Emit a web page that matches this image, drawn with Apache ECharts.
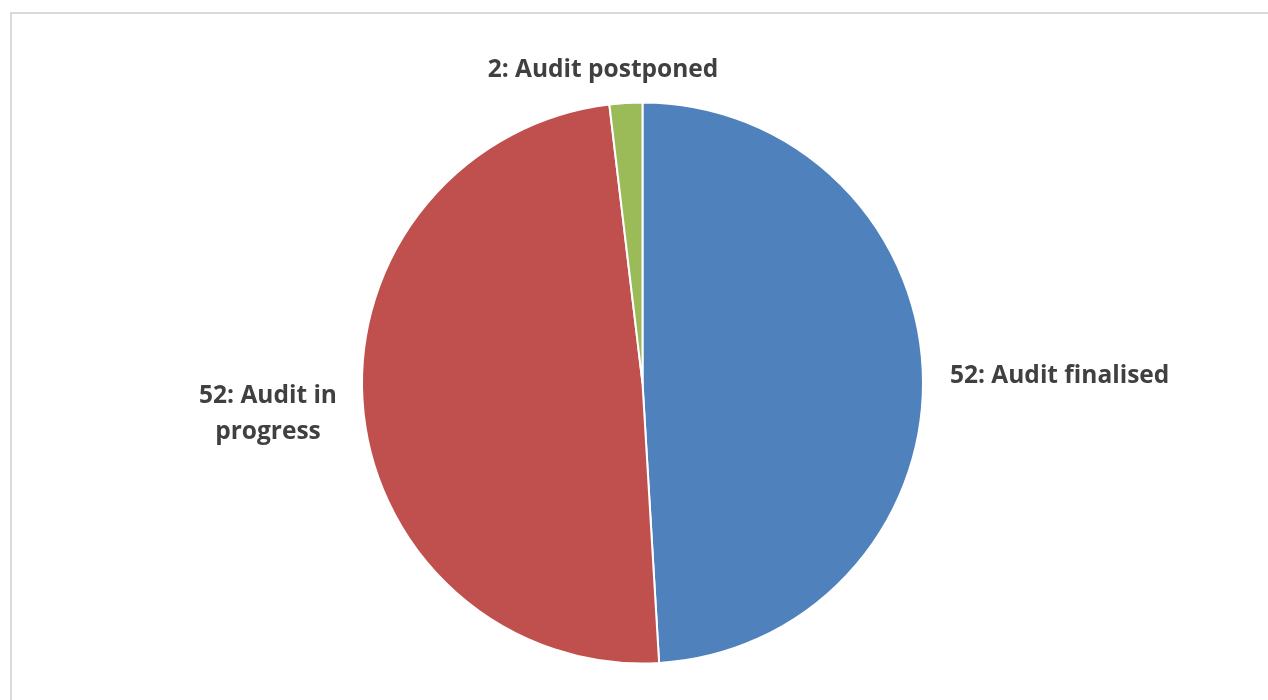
<!DOCTYPE html>
<html>
<head>
<meta charset="utf-8">
<script src="https://cdn.jsdelivr.net/npm/echarts@6/dist/echarts.min.js"></script>
<style>
html,body{margin:0;padding:0;background:#fff;}
#frame{position:absolute;left:10px;top:12px;width:1300px;height:720px;border-left:2px solid #d9d9d9;border-top:2px solid #d9d9d9;}
#chart{position:absolute;left:0;top:0;width:1268px;height:700px;}
</style>
</head>
<body>
<div id="frame"></div>
<div id="chart"></div>
<script>
const categories = ['Audit finalised', 'Audit in progress', 'Audit postponed'];
const values = [52, 52, 2];
const colors = ['#4F81BD', '#C0504D', '#9BBB59'];
const labelTexts = ['52: Audit finalised', '52: Audit in\nprogress', '2: Audit postponed'];

const labelSpots = [
  {x: 950, y: 376, align: 'left'},
  {x: 268, y: 414, align: 'center'},
  {x: 603, y: 70, align: 'center'}
];

const chart = echarts.init(document.getElementById('chart'), null, {renderer: 'canvas'});
chart.setOption({
  animation: false,
  series: [{
    type: 'pie',
    center: [642.5, 383],
    radius: [0, 280.5],
    startAngle: 90,
    clockwise: true,
    data: categories.map((c, i) => ({
      name: c,
      value: values[i],
      itemStyle: {color: colors[i]},
      label: {formatter: labelTexts[i]}
    })),
    itemStyle: {borderColor: '#fff', borderWidth: 2},
    label: {
      show: true,
      position: 'outside',
      color: '#404040',
      fontFamily: 'Open Sans',
      fontWeight: 'bold',
      fontSize: 24.5,
      lineHeight: 36
    },
    labelLine: {show: false},
    labelLayout: function (p) {
      const s = labelSpots[p.dataIndex];
      return {x: s.x, y: s.y, align: s.align, verticalAlign: 'middle'};
    }
  }]
});
</script>
</body>
</html>
